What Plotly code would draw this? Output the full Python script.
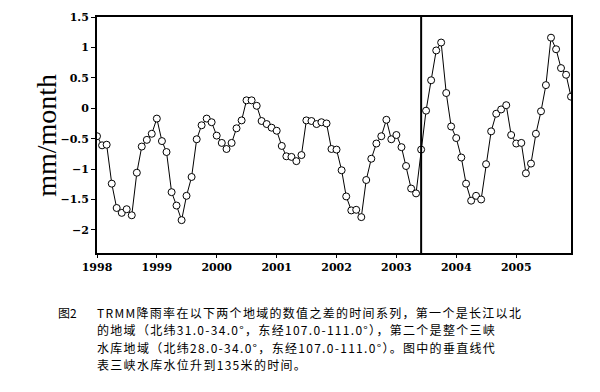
import plotly.graph_objects as go

# Monthly values Jan 1998 – Dec 2005 (mm/month)
years = list(range(1998, 2006))
values = [
    # 1998
    -0.46, -0.61, -0.60, -1.24, -1.64, -1.72, -1.66, -1.76, -1.06, -0.63, -0.52, -0.42,
    # 1999
    -0.17, -0.54, -0.72, -1.38, -1.60, -1.84, -1.44, -1.13, -0.51, -0.28, -0.17, -0.23,
    # 2000
    -0.45, -0.57, -0.67, -0.57, -0.33, -0.20, 0.13, 0.13, 0.04, -0.21, -0.26, -0.32,
    # 2001
    -0.37, -0.62, -0.79, -0.80, -0.87, -0.77, -0.20, -0.21, -0.26, -0.23, -0.25, -0.67,
    # 2002
    -0.68, -1.02, -1.45, -1.68, -1.67, -1.79, -1.18, -0.83, -0.58, -0.46, -0.19, -0.51,
    # 2003
    -0.44, -0.64, -0.95, -1.32, -1.40, -0.68, -0.04, 0.46, 0.95, 1.08, 0.25, -0.30,
    # 2004
    -0.49, -0.81, -1.24, -1.52, -1.44, -1.50, -0.92, -0.38, -0.09, -0.02, 0.05, -0.44,
    # 2005
    -0.58, -0.57, -1.07, -0.91, -0.42, -0.05, 0.38, 1.16, 0.97, 0.66, 0.55, 0.19,
]
dates = [f"{y}-{m:02d}-01" for y in years for m in range(1, 13)]
event_date = "2003-06-01"
tick_vals = [f"{y}-01-01" for y in years]
tick_text = [str(y) for y in years]

caption_label = "图2"
caption_lines = [
    "TRMM降雨率在以下两个地域的数值之差的时间系列，第一个是长江以北",
    "的地域（北纬31.0-34.0°，东经107.0-111.0°），第二个是整个三峡",
    "水库地域（北纬28.0-34.0°，东经107.0-111.0°）。图中的垂直线代",
    "表三峡水库水位升到135米的时间。",
]

fig = go.Figure()
fig.add_trace(go.Scatter(
    x=dates, y=values, mode="lines+markers",
    line=dict(color="black", width=1),
    marker=dict(symbol="circle", size=7, color="white",
                line=dict(color="black", width=1)),
    showlegend=False, cliponaxis=True,
))

fig.add_shape(type="line", xref="x", yref="paper", x0=event_date, x1=event_date,
              y0=0, y1=1, line=dict(color="black", width=2))

tick_font = dict(family="DejaVu Serif", size=11, color="black", weight="bold")
fig.update_xaxes(
    type="date", range=["1998-01-01", "2005-12-01"],
    tickvals=tick_vals, ticktext=tick_text, tickfont=tick_font,
    showline=True, linecolor="black", linewidth=2, mirror=True,
    ticks="outside", ticklen=3, tickcolor="black", showgrid=False, zeroline=False,
)
fig.update_yaxes(
    range=[-2.38, 1.5], tick0=0, dtick=0.5, tickfont=tick_font,
    showline=True, linecolor="black", linewidth=2, mirror=True,
    ticks="outside", ticklen=4, tickcolor="black", showgrid=False, zeroline=False,
)

cap_font = dict(family="Noto Sans CJK SC", size=12, color="black")
plot_top, plot_h = 17, 236
annotations = [
    dict(text="mm/month", xref="paper", yref="paper", x=-0.108, y=0.5,
         textangle=-90, showarrow=False, xanchor="center", yanchor="middle",
         font=dict(family="Liberation Serif", size=28, color="black")),
    dict(text=caption_label, xref="paper", yref="paper", x=-0.086,
         y=(plot_top + plot_h - 312) / plot_h,
         showarrow=False, xanchor="left", yanchor="middle", font=cap_font),
]
for i, line in enumerate(caption_lines):
    ypix = 312 + 17.5 * i
    annotations.append(dict(
        text=f'<span style="letter-spacing:1.3px">{line}</span>',
        xref="paper", yref="paper", x=-0.004, y=(plot_top + plot_h - ypix) / plot_h,
        showarrow=False, xanchor="left", yanchor="middle", align="left", font=cap_font))
fig.update_layout(
    width=600, height=392,
    margin=dict(l=97, r=29, t=17, b=139),
    paper_bgcolor="white", plot_bgcolor="white",
    annotations=annotations,
)
fig.write_html("out.html", post_script="document.body.style.margin='0px';",
               config={"displayModeBar": False})
